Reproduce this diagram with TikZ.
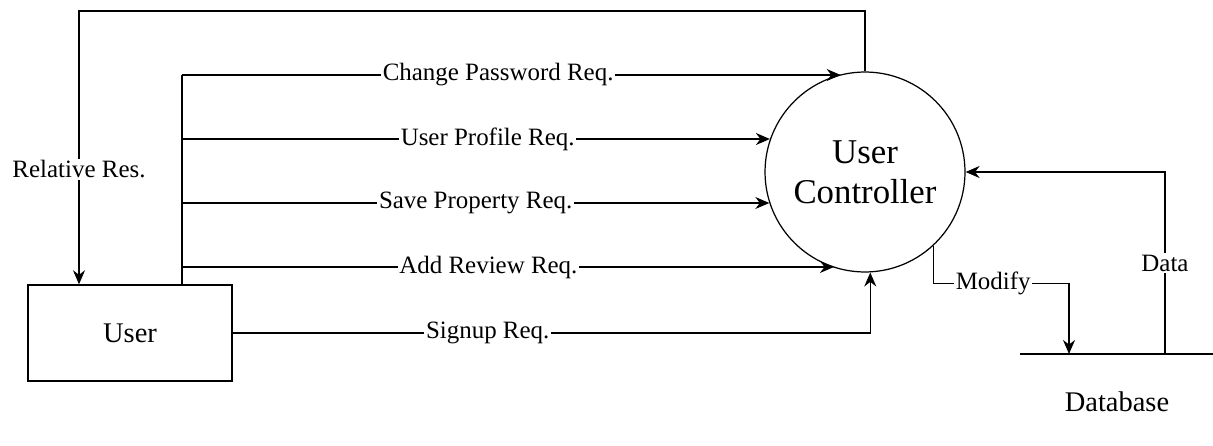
\documentclass[tikz,border=0pt]{standalone}
\usepackage{fontspec}
\setmainfont{LiberationSerif}[Extension=.ttf,UprightFont=*-Regular,BoldFont=*-Bold]
\usetikzlibrary{arrows.meta}

\tikzset{
  flow/.style={-{Stealth[length=2.8mm,width=2.4mm]},line width=0.8pt},
  lbl/.style={fill=white,inner sep=1pt,font=\fontsize{14.2}{16}\selectfont},
}

\begin{document}
\begin{tikzpicture}[x=0.02cm,y=-0.02cm]
  \useasboundingbox (0,0) rectangle (1213,446);
  % entity and process
  \node[draw,line width=0.8pt,minimum width=4.08cm,minimum height=1.92cm,
        font=\fontsize{16.2}{19}\selectfont] (user) at (130,333) {User};
  \node[draw,circle,line width=0.7pt,minimum size=4cm,align=center,
        font=\fontsize{19.8}{23}\selectfont] (ctrl) at (865,172) {User\\Controller};
  % data store
  \coordinate (dbL) at (1020,354);
  \coordinate (dbR) at (1213,354);
  \draw[line width=0.8pt] (dbL) -- (dbR);
  \node[font=\fontsize{16.2}{19}\selectfont] (dbname) at (1117,402) {Database};
  % response back to user
  \coordinate (rr) at (79,11);
  \draw[flow] (ctrl.north) |- (rr) -- node[lbl,pos=0.58]{Relative Res.} (rr |- user.north);
  % request bus
  \coordinate (bus) at (182,75);
  \draw[line width=0.8pt] (bus |- user.north) -- (bus);
  \draw[flow] (bus) -- node[lbl,pos=0.48]{Change Password Req.} (bus -| ctrl.104);
  \foreach \i/\yy/\ang/\txt/\p in {1/139/161/User Profile Req./0.52,
                                   2/203/198/Save Property Req./0.5,
                                   3/267/252/Add Review Req./0.47}{
    \coordinate (b\i) at (182,\yy);
    \draw[flow] (b\i) -- node[lbl,pos=\p]{\txt} (b\i -| ctrl.\ang);
  }
  \draw[flow] (user.east) -| node[lbl,pos=0.2]{Signup Req.} (ctrl.-87);
  % store access
  \coordinate (modin) at (1069,354);
  \coordinate (dout) at (1165,354);
  \draw[flow] (ctrl.-47) -- ++(0,38) -| node[lbl,pos=0.22]{Modify} (modin);
  \draw[flow] (dout) |- node[lbl,pos=0.25]{Data} (ctrl.east);
\end{tikzpicture}
\end{document}
